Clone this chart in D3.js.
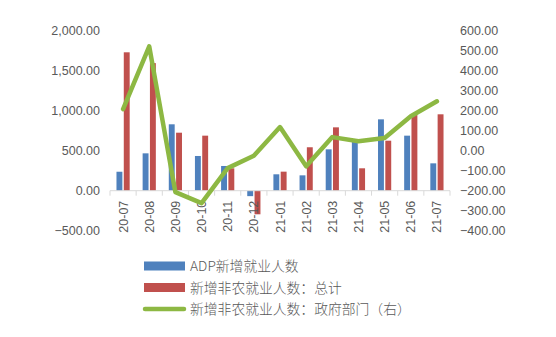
<!DOCTYPE html>
<html>
<head>
<meta charset="utf-8">
<script src="https://cdn.jsdelivr.net/npm/d3@7"></script>
<style>
  html, body { margin: 0; padding: 0; background: #fff; }
  svg { display: block; }
  .tick text { font-family: "Liberation Sans", Arial, sans-serif; }
</style>
</head>
<body>
<svg id="chart" width="556" height="337"></svg>
<script>
// Monthly labels
const months = ["20-07","20-08","20-09","20-10","20-11","20-12","21-01","21-02","21-03","21-04","21-05","21-06","21-07"];
// ADP new jobs (thousands, left axis)
const adp = [237, 467, 830, 434, 309, -68, 205, 192, 517, 613, 892, 688, 342];
// Nonfarm payrolls: total (thousands, left axis)
const nfpTotal = [1730, 1595, 725, 688, 280, -295, 238, 543, 792, 280, 625, 946, 955];
// Nonfarm payrolls: government (thousands, right axis)
const nfpGov = [208, 522, -207, -262, -87, -25, 118, -78, 68, 47, 63, 172, 247];

const leftTicks = [-500, 0, 500, 1000, 1500, 2000];
const rightTicks = [-400, -300, -200, -100, 0, 100, 200, 300, 400, 500, 600];

const legendLabels = ["ADP新增就业人数", "新增非农就业人数：总计", "新增非农就业人数：政府部门（右）"];
const colors = { adp: "#4F81BD", total: "#C0504D", gov: "#8DB843" };

const svg = d3.select("#chart");
const plot = { left: 110, right: 450, top: 30.7, bottom: 230.7 };

const x = d3.scaleBand().domain(months).range([plot.left, plot.right]).padding(0);
const yL = d3.scaleLinear().domain([-500, 2000]).range([plot.bottom, plot.top]);
const yR = d3.scaleLinear().domain([-400, 600]).range([plot.bottom, plot.top]);

const fmt = d3.format(",.2f");
const textColor = "#595959";

// Left axis labels
const gL = svg.append("g").attr("transform", `translate(${plot.left},0)`)
  .call(d3.axisLeft(yL).tickValues(leftTicks).tickFormat(fmt).tickSize(0).tickPadding(10));
gL.select(".domain").remove();
gL.selectAll("text").attr("font-size", 12.5).attr("fill", textColor);

// Right axis labels
const gR = svg.append("g").attr("transform", `translate(${plot.right},0)`)
  .call(d3.axisRight(yR).tickValues(rightTicks).tickFormat(fmt).tickSize(0).tickPadding(10));
gR.select(".domain").remove();
gR.selectAll("text").attr("font-size", 12.5).attr("fill", textColor);

// Bars
const barW = 5.9, barGap = 1.4;
const bars = svg.append("g");
bars.selectAll("rect.adp").data(months).join("rect")
  .attr("class", "adp")
  .attr("x", (d) => x(d) + x.bandwidth() / 2 - barGap / 2 - barW)
  .attr("width", barW)
  .attr("y", (d, i) => Math.min(yL(adp[i]), yL(0)))
  .attr("height", (d, i) => Math.abs(yL(adp[i]) - yL(0)))
  .attr("fill", colors.adp);
bars.selectAll("rect.total").data(months).join("rect")
  .attr("class", "total")
  .attr("x", (d) => x(d) + x.bandwidth() / 2 + barGap / 2)
  .attr("width", barW)
  .attr("y", (d, i) => Math.min(yL(nfpTotal[i]), yL(0)))
  .attr("height", (d, i) => Math.abs(yL(nfpTotal[i]) - yL(0)))
  .attr("fill", colors.total);

// Category axis on the zero line
const gX = svg.append("g").attr("transform", `translate(0,${yL(0)})`);
gX.append("line").attr("x1", plot.left).attr("x2", plot.right)
  .attr("stroke", "#d9d9d9").attr("stroke-width", 1);
const edges = months.map((m) => x(m)).concat([plot.right]);
gX.selectAll("line.tk").data(edges).join("line").attr("class", "tk")
  .attr("x1", (d) => d).attr("x2", (d) => d).attr("y1", 0).attr("y2", 5)
  .attr("stroke", "#d9d9d9");
gX.selectAll("text").data(months).join("text")
  .attr("transform", (d) => `translate(${x(d) + x.bandwidth() / 2 + 4.5},${10}) rotate(-90)`)
  .attr("text-anchor", "end")
  .attr("font-family", "Liberation Sans, Arial, sans-serif")
  .attr("font-size", 12.5)
  .attr("fill", textColor)
  .text((d) => d);

// Government payrolls line (right axis)
const line = d3.line()
  .x((d, i) => x(months[i]) + x.bandwidth() / 2)
  .y((d) => yR(d));
svg.append("path").datum(nfpGov)
  .attr("d", line)
  .attr("fill", "none")
  .attr("stroke", colors.gov)
  .attr("stroke-width", 4.5)
  .attr("stroke-linejoin", "round")
  .attr("stroke-linecap", "round");

// Legend
const lg = svg.append("g").attr("transform", "translate(144,0)");
const rows = [
  { y: 266, kind: "rect", color: colors.adp },
  { y: 287.5, kind: "rect", color: colors.total },
  { y: 309, kind: "line", color: colors.gov },
];
rows.forEach((r, i) => {
  if (r.kind === "rect") {
    lg.append("rect").attr("x", 0).attr("y", r.y - 4.5).attr("width", 41).attr("height", 9).attr("fill", r.color);
  } else {
    lg.append("line").attr("x1", 1).attr("x2", 40).attr("y1", r.y).attr("y2", r.y)
      .attr("stroke", r.color).attr("stroke-width", 4.5).attr("stroke-linecap", "round");
  }
  lg.append("text").attr("x", 46).attr("y", r.y + 5)
    .attr("font-family", "Noto Sans CJK SC, sans-serif")
    .attr("font-size", 13.8)
    .attr("font-weight", 300)
    .attr("fill", textColor)
    .text(legendLabels[i]);
});
</script>
</body>
</html>
